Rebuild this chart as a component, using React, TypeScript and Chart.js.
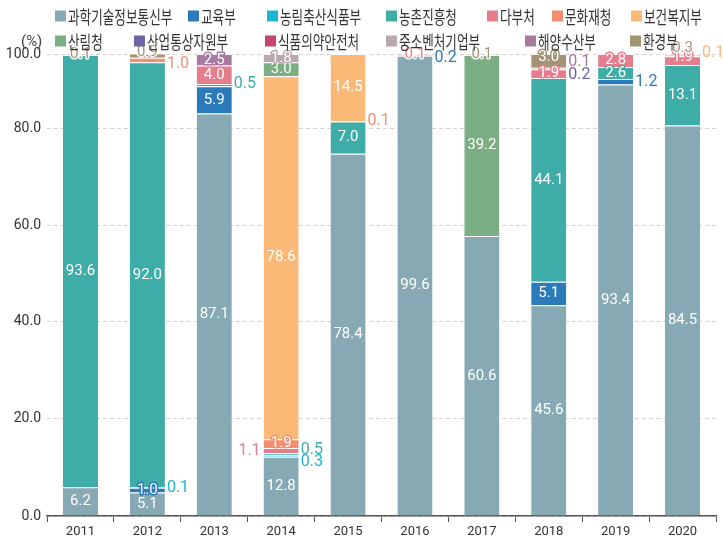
import React, { useEffect, useRef } from "react";
import { Chart, registerables } from "chart.js";
Chart.register(...registerables);

const years = ["2011", "2012", "2013", "2014", "2015", "2016", "2017", "2018", "2019", "2020"];
const seriesNames = [
  "과학기술정보통신부", "교육부", "농림축산식품부", "농촌진흥청", "다부처", "문화재청", "보건복지부",
  "산림청", "산업통상자원부", "식품의약안전처", "중소벤처기업부", "해양수산부", "환경부",
];
const seriesColors = [
  "#87a9b3", "#2b7bba", "#1cb5d2", "#3fada7", "#e67d8d", "#f38e71", "#fbb978",
  "#7bae83", "#6b64a6", "#c5466f", "#b9a8ae", "#a77aa0", "#a39475",
];
const msit = [6.2, 5.1, 87.1, 12.8, 78.4, 99.6, 60.6, 45.6, 93.4, 84.5];
const moe = [null, 1.0, 5.9, null, null, 0.2, null, 5.1, 1.2, null];
const mafra = [null, 0.1, null, 0.3, null, null, null, null, null, null];
const rda = [93.6, 92.0, 0.5, 0.5, 7.0, null, null, 44.1, 2.6, 13.1];
const multi = [null, null, 4.0, 1.1, null, 0.1, null, 1.9, 2.8, 1.9];
const cha = [null, 1.0, null, 1.9, 0.1, null, null, null, null, null];
const mohw = [null, null, null, 78.6, 14.5, null, null, null, null, 0.1];
const kfs = [null, null, null, 3.0, null, null, 39.2, null, null, null];
const motie = [null, null, null, null, null, null, null, 0.2, null, null];
const mfds = [null, null, null, null, null, null, null, null, null, null];
const mss = [null, null, null, 1.8, null, null, null, null, null, null];
const mof = [null, null, 2.5, null, null, null, null, 0.1, null, null];
const me = [0.1, 0.9, null, null, null, null, 0.1, 3.0, null, 0.3];
const seriesValues = [msit, moe, mafra, rda, multi, cha, mohw, kfs, motie, mfds, mss, mof, me];

const yTickLabels = ["0.0", "20.0", "40.0", "60.0", "80.0", "100.0"];
const yTickAt = [0, 21.0, 42.0, 62.8, 83.8, 100];

// label placement styles: key "dataset-year"
const labelSpec: Record<string, { m: string; dy?: number }> = {
  "12-0": { m: "top" },
  "1-1": { m: "ring" },
  "2-1": { m: "right" },
  "5-1": { m: "right", dy: 4 },
  "12-1": { m: "top", dy: -3 },
  "3-2": { m: "right", dy: -1 },
  "11-2": { m: "ring" },
  "2-3": { m: "right", dy: 6 },
  "3-3": { m: "right", dy: -4 },
  "4-3": { m: "left" },
  "5-3": { m: "ring" },
  "10-3": { m: "ring" },
  "5-4": { m: "right" },
  "1-5": { m: "right", dy: 3 },
  "4-5": { m: "top" },
  "12-6": { m: "top" },
  "4-7": { m: "ring" },
  "8-7": { m: "right", dy: 6 },
  "11-7": { m: "right", dy: -6 },
  "12-7": { m: "ring", dy: -4 },
  "1-8": { m: "right" },
  "3-8": { m: "ring" },
  "4-8": { m: "ring" },
  "4-9": { m: "ring", dy: -3 },
  "6-9": { m: "right", dy: -3 },
  "12-9": { m: "top", dy: -7 },
};

const legendRows = [
  [0, 1, 2, 3, 4, 5, 6],
  [7, 8, 9, 10, 11, 12],
];
const legendX = [
  [55, 188, 267, 386, 487, 552, 631],
  [55, 134, 265, 386, 525, 630],
];
const legendY = [16, 41];

const labelPlugin = {
  id: "segLabels",
  afterDatasetsDraw(chart: any) {
    const ctx = chart.ctx;
    ctx.save();
    ctx.textBaseline = "middle";
    ctx.lineJoin = "round";
    chart.data.datasets.forEach((ds: any, di: number) => {
      const meta = chart.getDatasetMeta(di);
      meta.data.forEach((el: any, i: number) => {
        const v = ds.data[i];
        if (v == null) return;
        const p = el.getProps(["x", "y", "base", "width"], true);
        const spec = labelSpec[`${di}-${i}`] || { m: "in" };
        const txt = v.toFixed(1);
        const cy = (p.y + p.base) / 2 + (spec.dy || 0);
        const color = seriesColors[di];
        ctx.font = '15px Roboto';
        if (spec.m === "in") {
          ctx.textAlign = "center";
          ctx.fillStyle = "#ffffff";
          ctx.fillText(txt, p.x, cy);
        } else if (spec.m === "ring") {
          ctx.textAlign = "center";
          ctx.lineWidth = 3;
          ctx.strokeStyle = color;
          ctx.strokeText(txt, p.x, cy);
          ctx.fillStyle = "#ffffff";
          ctx.fillText(txt, p.x, cy);
        } else if (spec.m === "top") {
          ctx.textAlign = "center";
          ctx.lineWidth = 3;
          ctx.strokeStyle = "rgba(255,255,255,0.9)";
          ctx.strokeText(txt, p.x, cy);
          ctx.fillStyle = color;
          ctx.fillText(txt, p.x, cy);
        } else if (spec.m === "right") {
          ctx.font = '16px Roboto';
          ctx.textAlign = "left";
          ctx.fillStyle = color;
          ctx.fillText(txt, p.x + p.width / 2 + 2, cy);
        } else if (spec.m === "left") {
          ctx.font = '16px Roboto';
          ctx.textAlign = "right";
          ctx.fillStyle = color;
          ctx.fillText(txt, p.x - p.width / 2 - 3, cy);
        }
      });
    });
    ctx.restore();
  },
};

const legendPlugin = {
  id: "customLegend",
  afterDraw(chart: any) {
    const ctx = chart.ctx;
    ctx.save();
    ctx.textBaseline = "middle";
    ctx.textAlign = "left";
    legendRows.forEach((row, r) => {
      const cy = legendY[r];
      row.forEach((si, k) => {
        const x = legendX[r][k];
        ctx.fillStyle = seriesColors[si];
        ctx.fillRect(x, cy - 5.5, 11, 11);
        ctx.save();
        ctx.translate(x + 13, cy + 1);
        ctx.scale(0.7, 1);
        ctx.font = '18px "Noto Sans CJK KR"';
        ctx.fillStyle = "#333333";
        ctx.fillText(seriesNames[si], 0, 0);
        ctx.restore();
      });
    });
    ctx.font = '15px Roboto';
    ctx.fillStyle = "#444444";
    ctx.fillText("(%)", 21, legendY[1] + 1);
    ctx.restore();
  },
};

export default function App() {
  const ref = useRef<HTMLCanvasElement>(null);
  useEffect(() => {
    document.body.style.margin = "0";
    const chart = new Chart(ref.current as HTMLCanvasElement, {
      type: "bar",
      data: {
        labels: years,
        datasets: seriesValues.map((vals, i) => ({
          label: seriesNames[i],
          data: vals,
          backgroundColor: seriesColors[i],
          borderColor: "rgba(255,255,255,0.85)",
          borderWidth: { top: 1, left: 0, right: 0, bottom: 0 },
          borderSkipped: false,
          barPercentage: 0.525,
          categoryPercentage: 1,
        })),
      },
      options: {
        responsive: false,
        animation: false,
        layout: { padding: { top: 54, right: 7, left: 0, bottom: 0 } },
        plugins: { legend: { display: false }, tooltip: { enabled: false } },
        scales: {
          x: {
            stacked: true,
            border: { display: true, color: "#555555", width: 1.5 },
            grid: { drawOnChartArea: false, drawTicks: true, tickLength: 6, color: "#555555", offset: true },
            ticks: { color: "#333333", font: { family: "Roboto", size: 13 }, padding: 2 },
            afterFit: (s: any) => { s.height = 26; },
          },
          y: {
            stacked: true,
            min: 0,
            max: 100,
            border: { display: false, dash: [4, 3] },
            grid: { color: "#ddd0d3", drawTicks: false, lineWidth: 1 },
            ticks: {
              color: "#333333",
              font: { family: "Roboto", size: 14 },
              padding: 6,
              callback: (_v: any, idx: number) => yTickLabels[idx],
            },
            afterBuildTicks: (s: any) => { s.ticks = yTickAt.map((v) => ({ value: v })); },
            afterFit: (s: any) => { s.width = 47; },
          },
        },
      },
      plugins: [labelPlugin, legendPlugin],
    } as any);
    return () => chart.destroy();
  }, []);
  return <canvas ref={ref} width={723} height={542} style={{ display: "block" }} />;
}
